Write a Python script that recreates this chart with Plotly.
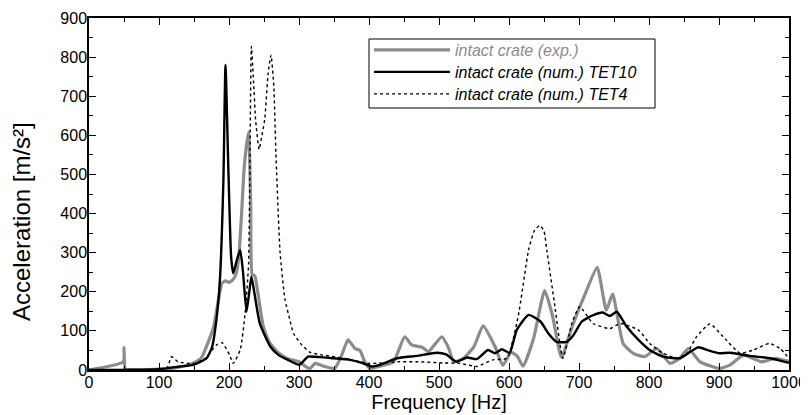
import plotly.graph_objects as go

# ---- data ----
exp_f = [0, 49, 50, 52, 60, 100, 125, 145, 160, 170, 178, 185, 190, 195, 200, 205, 210, 214, 218, 221, 224, 228, 231, 233, 237, 241, 249, 258, 270, 285, 300, 310, 316, 323, 335, 351, 361, 370, 380, 387, 394, 401, 416, 435, 451, 461, 476, 485, 504, 514, 521, 535, 550, 563, 580, 591, 603, 612, 620, 635, 651, 662, 675, 690, 710, 726, 739, 748, 763, 778, 794, 811, 830, 844, 856, 873, 901, 916, 935, 961, 980, 1000]
exp_v = [0, 21, 57, 2, 1, 2, 6, 15, 30, 70, 110, 180, 222, 228, 224, 230, 245, 290, 400, 500, 560, 608, 420, 245, 240, 200, 111, 70, 45, 28, 21, 8, 4, 17, 10, 4, 38, 77, 55, 50, 21, 4, 10, 21, 85, 64, 58, 47, 85, 55, 21, 30, 60, 113, 60, 12, 45, 35, 10, 80, 203, 140, 32, 110, 200, 262, 153, 194, 68, 42, 34, 55, 17, 30, 55, 21, 4, 13, 38, 21, 30, 22]

tet10_f = [0, 100, 130, 149, 168, 176, 182, 187, 192, 195, 199, 203, 206, 211, 216, 220, 225, 229, 232, 236, 244, 259, 271, 285, 300, 305, 313, 330, 349, 373, 390, 404, 415, 440, 468, 497, 510, 525, 540, 554, 570, 580, 590, 601, 611, 628, 645, 656, 668, 682, 692, 704, 720, 734, 744, 754, 768, 785, 801, 820, 844, 856, 870, 885, 899, 916, 944, 973, 987, 1000]
tet10_v = [0, 2, 9, 13, 30, 60, 128, 230, 486, 780, 520, 290, 247, 280, 307, 250, 149, 200, 239, 200, 119, 60, 38, 25, 13, 20, 34, 33, 30, 26, 18, 9, 13, 30, 36, 44, 40, 21, 32, 28, 51, 43, 53, 44, 102, 141, 124, 94, 72, 72, 89, 124, 140, 147, 138, 149, 111, 77, 51, 34, 30, 43, 58, 50, 43, 44, 36, 30, 24, 18]

tet4_f = [0, 110, 118, 127, 151, 166, 182, 190, 201, 206, 216, 223, 228, 232, 235, 238, 243, 247, 251, 256, 260, 264, 267, 273, 280, 287, 292, 304, 316, 328, 363, 401, 444, 473, 506, 530, 554, 577, 597, 613, 628, 636, 644, 650, 654, 665, 677, 690, 701, 720, 744, 759, 785, 801, 820, 840, 854, 868, 887, 906, 930, 949, 972, 987, 1000]
tet4_v = [0, 2, 34, 21, 17, 30, 64, 70, 38, 17, 51, 145, 273, 827, 740, 640, 564, 600, 640, 760, 805, 725, 555, 300, 180, 128, 94, 64, 45, 40, 30, 17, 21, 21, 18, 17, 9, 26, 30, 136, 307, 355, 370, 355, 307, 170, 30, 120, 162, 119, 106, 119, 102, 68, 43, 30, 43, 85, 118, 85, 43, 51, 68, 55, 30]

names = [
    "<span style='color:#8c8c8c'>intact crate (exp.)</span>",
    "intact crate (num.) TET10",
    "intact crate (num.) TET4",
]

x_ticks = [0, 100, 200, 300, 400, 500, 600, 700, 800, 900, 1000]
y_ticks = [0, 100, 200, 300, 400, 500, 600, 700, 800, 900]

FONT = "Liberation Sans, Arial, sans-serif"

fig = go.Figure()
fig.add_trace(go.Scatter(x=exp_f, y=exp_v, mode="lines", name=names[0], legend="legend",
                         line=dict(color="#8c8c8c", width=3.2, shape="spline", smoothing=0.5)))
fig.add_trace(go.Scatter(x=tet10_f, y=tet10_v, mode="lines", name=names[1], legend="legend2",
                         line=dict(color="black", width=2.4, shape="spline", smoothing=0.5)))
fig.add_trace(go.Scatter(x=tet4_f, y=tet4_v, mode="lines", name=names[2], legend="legend3",
                         line=dict(color="black", width=1.4, dash="dot", shape="spline", smoothing=0.5)))

axis_common = dict(
    showgrid=False, zeroline=False, showline=True, linecolor="black", linewidth=1.5,
    mirror="allticks", ticks="inside", ticklen=7, tickwidth=1.2, tickcolor="black",
    tickfont=dict(family=FONT, size=16, color="black"), automargin=False,
    ticklabelstandoff=-3,
)

fig.update_xaxes(range=[0, 1000], tickvals=x_ticks, ticktext=[str(v) for v in x_ticks],
                 minor=dict(ticks="inside", ticklen=4, tickwidth=1, tickcolor="black", dtick=50),
                 title=dict(text="Frequency [Hz]", font=dict(family=FONT, size=20, color="black"), standoff=0),
                 **axis_common)
fig.update_yaxes(range=[0, 900], tickvals=y_ticks, ticktext=[str(v) for v in y_ticks],
                 minor=dict(ticks="inside", ticklen=4, tickwidth=1, tickcolor="black", dtick=50),
                 **axis_common)

# y-axis title as a rotated annotation (placed like the reference)
fig.add_annotation(text="Acceleration [m/s²]", xref="paper", yref="paper",
                   x=-0.0957, y=0.4205, xanchor="center", yanchor="middle",
                   textangle=-90, showarrow=False,
                   font=dict(family=FONT, size=24, color="black"))

# legend frame (paper coords)
fig.add_shape(type="rect", xref="paper", yref="paper",
              x0=0.4, x1=0.8086, y0=0.7443, y1=0.9403,
              line=dict(color="black", width=1), fillcolor="white", layer="above")

leg_common = dict(x=0.4, xanchor="left", yanchor="middle", bgcolor="rgba(0,0,0,0)", borderwidth=0,
                  font=dict(family=FONT, size=16, color="black", style="italic"), itemwidth=76)

# the page body has an 8px margin: figure is 800x407 placed at (8, 8)
fig.update_layout(
    width=800, height=407,
    margin=dict(l=81, r=19, t=10, b=45, autoexpand=False),
    paper_bgcolor="white", plot_bgcolor="white",
    font=dict(family=FONT, color="black"),
    legend=dict(y=0.909, **leg_common),
    legend2=dict(y=0.8466, **leg_common),
    legend3=dict(y=0.7841, **leg_common),
    showlegend=True,
)

fig.write_html("out.html")
